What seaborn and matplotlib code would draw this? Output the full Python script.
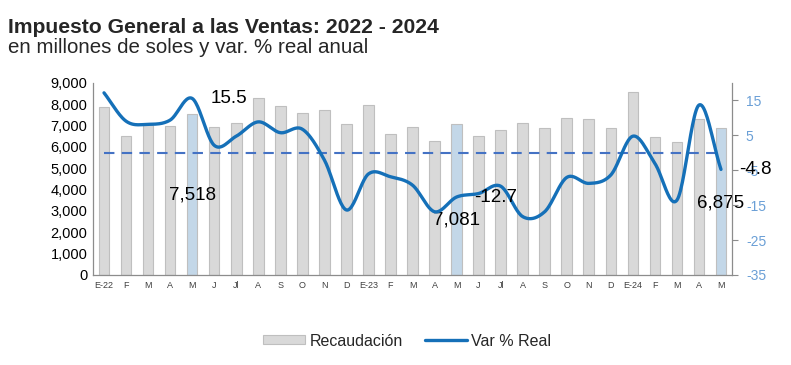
import numpy as np
import pandas as pd
import matplotlib
matplotlib.use("Agg")
import matplotlib.pyplot as plt
import seaborn as sns
from matplotlib.patches import Patch
from matplotlib.lines import Line2D

# ---------------- data ----------------
meses = ["E-22", "F", "M", "A", "M", "J", "Jl", "A", "S", "O", "N", "D",
         "E-23", "F", "M", "A", "M", "J", "Jl", "A", "S", "O", "N", "D",
         "E-24", "F", "M", "A", "M"]
recaudacion = [7850, 6500, 7020, 6970, 7518, 6910, 7100, 8270, 7890, 7580, 7710, 7050,
               7940, 6580, 6910, 6270, 7081, 6490, 6770, 7100, 6860, 7330, 7290, 6860,
               8550, 6440, 6210, 7290, 6875]
var_real = [17.1, 9.0, 8.1, 9.3, 15.5, 2.1, 4.7, 8.8, 5.7, 6.7, -2.1, -16.4,
            -6.1, -6.9, -9.3, -16.9, -12.7, -11.7, -9.6, -18.3, -16.9, -7.1, -8.8, -6.4,
            4.7, -3.1, -13.6, 13.6, -4.8]
destacados = [4, 16, 28]  # mayo de cada año
referencia = [0.0] * len(meses)

# ---------------- style ----------------
sns.set_theme(style="white")
plt.rcParams["font.family"] = ["Liberation Sans", "DejaVu Sans"]

GRAY = "#D9D9D9"
GRAY_EDGE = "#BFBFBF"
BLUE_BAR = "#BDD7EE"
BLUE_EDGE = "#9DC3E6"
LINE = "#1570B8"
DASH = "#4472C4"
AXIS = "#8C8C8C"
RTICK = "#6A9FD6"

fig = plt.figure(figsize=(7.91, 3.65), dpi=100)
ax = fig.add_axes([93 / 791, 1 - 275 / 365, (732 - 93) / 791, (275 - 82.7) / 365])

n = len(meses)
df = pd.DataFrame({
    "pos": np.arange(n),
    "val": recaudacion,
    "tipo": ["may" if i in destacados else "otro" for i in range(n)],
})
sns.barplot(data=df, x="pos", y="val", hue="tipo", dodge=False, width=0.48,
            palette={"otro": GRAY, "may": BLUE_BAR}, legend=False, ax=ax,
            linewidth=0.8)
for p in ax.patches:
    fc = matplotlib.colors.to_hex(p.get_facecolor())
    p.set_edgecolor(BLUE_EDGE if fc.lower() == BLUE_BAR.lower() else GRAY_EDGE)

ax.set_xlim(-0.5, n - 0.5)
ax.set_ylim(0, 9000)
ax.set_yticks(np.arange(0, 9001, 1000))
ax.set_yticklabels([f"{v:,}" for v in range(0, 9001, 1000)], fontsize=10.5, color="black")
ax.set_xticks(np.arange(n))
ax.set_xticklabels(meses, fontsize=6.5, color="#404040")
ax.set_xlabel("")
ax.set_ylabel("")
ax.tick_params(axis="y", length=0, pad=4)
ax.tick_params(axis="x", length=0, pad=4)
for s in ["top", "right"]:
    ax.spines[s].set_visible(False)
for s in ["left", "bottom"]:
    ax.spines[s].set_color(AXIS)
    ax.spines[s].set_linewidth(0.9)

# ---------------- secondary axis ----------------
ax2 = ax.twinx()
ax2.set_ylim(-35, 20)
ax2.set_yticks([-35, -25, -15, -5, 5, 15])
ax2.set_yticklabels(["-35", "-25", "-15", "-5", "5", "15"], fontsize=10, color=RTICK)
ax2.tick_params(axis="y", length=4, width=0.8, color=AXIS, direction="out", pad=6)
for s in ["top", "left", "bottom"]:
    ax2.spines[s].set_visible(False)
ax2.spines["right"].set_color(AXIS)
ax2.spines["right"].set_linewidth(0.9)

# dashed zero reference
sns.lineplot(x=np.arange(n), y=referencia, ax=ax2, color=DASH, lw=1.5,
             linestyle=(0, (5, 3.5)), sort=False)

# smoothed line (Catmull-Rom, like Excel's smoothed line)
def smooth(y, k=24):
    y = np.asarray(y, float)
    m = len(y)
    tang = np.zeros(m)
    tang[1:-1] = (y[2:] - y[:-2]) / 2
    tang[0] = y[1] - y[0]
    tang[-1] = y[-1] - y[-2]
    xs, ys = [], []
    for i in range(m - 1):
        t = np.linspace(0, 1, k, endpoint=False)
        h00 = 2 * t**3 - 3 * t**2 + 1
        h10 = t**3 - 2 * t**2 + t
        h01 = -2 * t**3 + 3 * t**2
        h11 = t**3 - t**2
        xs.append(i + t)
        ys.append(h00 * y[i] + h10 * tang[i] + h01 * y[i + 1] + h11 * tang[i + 1])
    xs.append([m - 1])
    ys.append([y[-1]])
    return np.concatenate(xs), np.concatenate(ys)

sx, sy = smooth(var_real)
sns.lineplot(x=sx, y=sy, ax=ax2, color=LINE, lw=2.4, sort=False)
ax2.set_xlim(-0.5, n - 0.5)
ax2.set_ylabel("")

# labels for the line (right of the point)
for i in destacados:
    ax2.annotate(f"{var_real[i]:.1f}", (i, var_real[i]), xytext=(13, 0),
                 textcoords="offset points", ha="left", va="center",
                 fontsize=13.5, color="black")

# labels for the highlighted bars
bar_label_y = {4: 3760, 16: 2580, 28: 3350}
for i in destacados:
    ax.text(i, bar_label_y[i], f"{recaudacion[i]:,}", ha="center", va="center",
            fontsize=13.5, color="black", zorder=5)

# ---------------- titles ----------------
fig.text(8 / 791, 1 - 32.7 / 365, "Impuesto General a las Ventas: 2022 - 2024",
         fontsize=15.2, fontweight="bold", ha="left", va="baseline")
fig.text(8 / 791, 1 - 53.3 / 365, "en millones de soles y var. % real anual",
         fontsize=14.8, ha="left", va="baseline")

# ---------------- legend ----------------
handles = [Patch(facecolor=GRAY, edgecolor=GRAY_EDGE, linewidth=0.8),
           Line2D([0], [0], color=LINE, lw=2.4)]
fig.legend(handles, ["Recaudación", "Var % Real"], loc="center",
           bbox_to_anchor=(0.515, 1 - 341 / 365), ncol=2, frameon=False,
           fontsize=11.5, handlelength=2.6, handletextpad=0.3, columnspacing=1.4,
           handleheight=0.5)

fig.savefig("out.png", dpi=100)
